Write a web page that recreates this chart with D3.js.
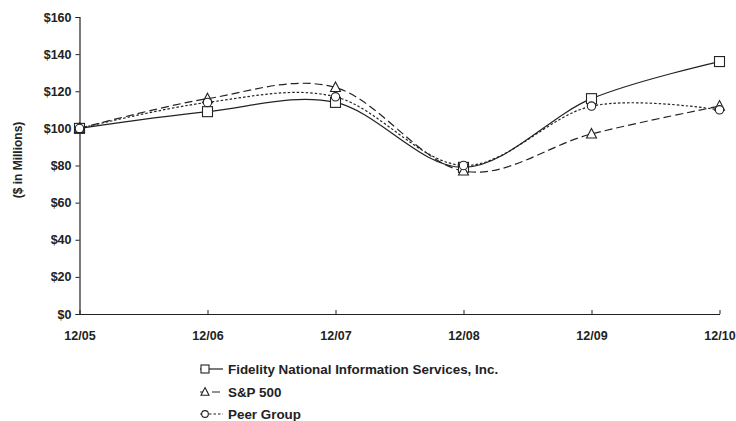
<!DOCTYPE html>
<html>
<head>
<meta charset="utf-8">
<script src="https://cdn.jsdelivr.net/npm/d3@7"></script>
<style>
  html, body { margin: 0; padding: 0; background: #fff; }
  svg text { font-family: "Liberation Sans", Arial, sans-serif; font-weight: bold; font-size: 12px; fill: #222; }
</style>
</head>
<body>
<svg id="chart" width="736" height="421"></svg>
<script>
// Cumulative value of a $100 investment, December year-ends
const categories = ["12/05", "12/06", "12/07", "12/08", "12/09", "12/10"];
const fidelity   = [100, 109, 114, 79, 116, 136];
const sp500      = [100, 116, 122, 77, 97, 112];
const peerGroup  = [100, 114, 117, 80, 112, 110];
const yTicks     = [0, 20, 40, 60, 80, 100, 120, 140, 160];
const seriesNames = ["Fidelity National Information Services, Inc.", "S&P 500", "Peer Group"];

const svg = d3.select("#chart");
const plotLeft = 79.5, plotRight = 719.5, plotTop = 17, plotBottom = 314;

const x = d3.scalePoint().domain(categories).range([plotLeft, plotRight]);
const y = d3.scaleLinear().domain([0, 160]).range([plotBottom, plotTop]);

const fontFamily = "'Liberation Sans', Arial, sans-serif";

// Y axis
const yAxis = svg.append("g").attr("transform", `translate(${plotLeft},0)`)
  .call(d3.axisLeft(y).tickValues(yTicks).tickSize(4).tickPadding(4).tickFormat(d => "$" + d));
yAxis.select(".domain").attr("stroke", "#222").attr("stroke-width", 1.2);
yAxis.selectAll(".tick line").attr("stroke", "#222");
yAxis.selectAll("text").attr("fill", "#222").style("font-size", "12.5px")
  .style("font-family", fontFamily).style("font-weight", "bold");

// X axis with inward ticks
const xAxis = svg.append("g").attr("transform", `translate(0,${plotBottom})`)
  .call(d3.axisBottom(x).tickSize(-4).tickSizeOuter(0).tickPadding(17));
xAxis.select(".domain").attr("stroke", "#222").attr("stroke-width", 1.2);
xAxis.selectAll(".tick line").attr("stroke", "#222");
xAxis.selectAll("text").attr("fill", "#222").style("font-size", "12.5px")
  .style("font-family", fontFamily).style("font-weight", "bold");

// Y axis title
svg.append("text")
  .attr("transform", "translate(22,160) rotate(-90)")
  .attr("text-anchor", "middle")
  .style("font-size", "12px")
  .text("($ in Millions)");

const line = d3.line()
  .x((d, i) => x(categories[i]))
  .y(d => y(d))
  .curve(d3.curveCardinal.tension(0));

const styles = [
  { data: fidelity,  dash: null,  marker: "square" },
  { data: sp500,     dash: "8,4", marker: "triangle" },
  { data: peerGroup, dash: "2.5,2", marker: "circle" }
];

function drawMarker(g, type, cx, cy, k = 1) {
  if (type === "square") {
    g.append("rect").attr("x", cx - 5 * k).attr("y", cy - 5 * k).attr("width", 10 * k).attr("height", 10 * k)
      .attr("fill", "#fff").attr("stroke", "#222").attr("stroke-width", 1.1);
  } else if (type === "triangle") {
    g.append("path").attr("d", `M${cx},${cy - 5.5 * k}L${cx + 5 * k},${cy + 4 * k}L${cx - 5 * k},${cy + 4 * k}Z`)
      .attr("fill", "#fff").attr("stroke", "#222").attr("stroke-width", 1.1);
  } else {
    g.append("circle").attr("cx", cx).attr("cy", cy).attr("r", 4.2 * k)
      .attr("fill", "#fff").attr("stroke", "#222").attr("stroke-width", 1.1);
  }
}

const plot = svg.append("g");
styles.forEach(s => {
  plot.append("path").datum(s.data).attr("d", line)
    .attr("fill", "none").attr("stroke", "#222").attr("stroke-width", 1.2)
    .attr("stroke-dasharray", s.dash);
});
styles.forEach(s => {
  const g = plot.append("g");
  s.data.forEach((v, i) => drawMarker(g, s.marker, x(categories[i]), y(v)));
});

// Legend
const legendY = [369, 392, 414];
const legend = svg.append("g");
styles.forEach((s, i) => {
  const ly = legendY[i];
  legend.append("line").attr("x1", 200).attr("x2", 223).attr("y1", ly).attr("y2", ly)
    .attr("stroke", "#222").attr("stroke-width", 1.2).attr("stroke-dasharray", s.dash);
  drawMarker(legend, s.marker, 205, ly, 0.8);
  legend.append("text").attr("x", 228).attr("y", ly).attr("dy", "0.36em")
    .style("font-size", "13.4px").text(seriesNames[i]);
});
</script>
</body>
</html>
